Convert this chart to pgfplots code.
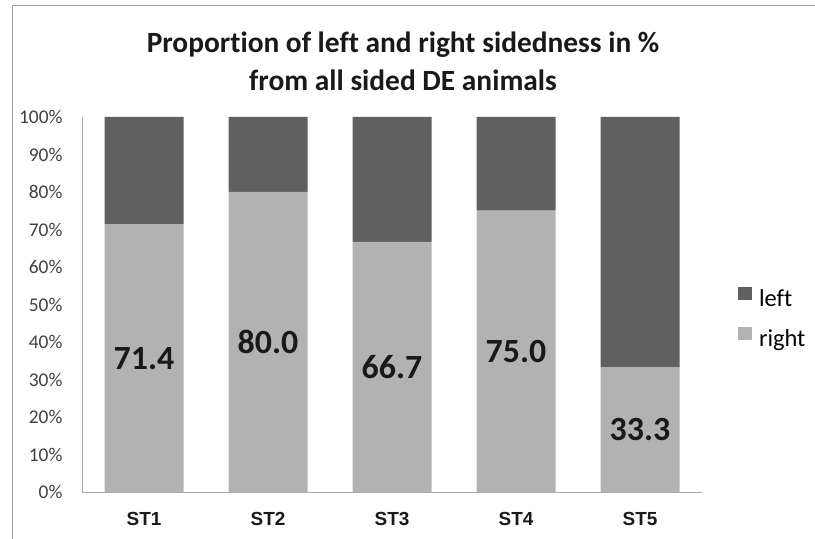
\documentclass[border=0pt]{standalone}
\usepackage{pgfplots}
\pgfplotsset{compat=1.18}
\usepackage{fontspec}
\setmainfont[Ligatures=NoCommon]{Carlito}
\newfontfamily\arialfont{Liberation Sans}

\definecolor{leftcol}{RGB}{96,96,96}
\definecolor{rightcol}{RGB}{178,178,178}
\definecolor{axiscol}{RGB}{170,170,170}
\definecolor{ticktext}{RGB}{64,64,64}

\begin{document}
\begin{tikzpicture}
\useasboundingbox (0,0) rectangle (815bp,539bp);
% chart frame (only top and left edges are visible)
\draw[gray!75, line width=0.8bp] (12bp,0) -- (12bp,534bp) -- (815bp,534bp);

\pgfplotsset{
  mygeom/.style={
    scale only axis, width=620bp, height=375bp,
    at={(82bp,47bp)}, anchor=south west,
    xmin=-0.5, xmax=4.5, ymin=0, ymax=100,
  }
}

\begin{axis}[mygeom,
  ybar stacked, bar width=79bp,
  axis x line*=bottom, axis y line*=left,
  axis line style={axiscol, line width=0.8bp},
  xtick={0,1,2,3,4},
  xticklabels={ST1,ST2,ST3,ST4,ST5},
  xticklabel style={font=\arialfont\bfseries\fontsize{19}{22}\selectfont, text=black!90, yshift=-17bp},
  ytick={0,10,...,100},
  yticklabel={\pgfmathprintnumber{\tick}\%},
  /pgf/number format/assume math mode=true,
  yticklabel style={font=\fontsize{19.5}{22}\selectfont, text=ticktext, xshift=-16bp},
  major tick length=0pt,
  legend style={at={(1.053,0.464)}, anchor=west, draw=none, fill=none,
    font=\fontsize{24.5}{28}\selectfont, row sep=18bp,
    nodes={inner sep=1bp}},
  legend cell align=left,
  reverse legend,
  legend image code/.code={\fill[#1] (0bp,-1bp) rectangle (14bp,12bp); \path (20bp,0);},
]
\addplot[fill=rightcol, draw=none] coordinates {(0,71.4) (1,80.0) (2,66.7) (3,75.0) (4,33.3)};
\addlegendentry{right}
\addplot[fill=leftcol, draw=none] coordinates {(0,28.6) (1,20.0) (2,33.3) (3,25.0) (4,66.7)};
\addlegendentry{left}
\end{axis}

% value labels, centred in the "right" segments
\begin{axis}[mygeom, hide axis,
  point meta=explicit symbolic,
  nodes near coords,
  nodes near coords align=center,
  nodes near coords style={anchor=center, font=\bfseries\fontsize{34}{38}\selectfont, text=black!90},
]
\addplot[draw=none, mark=none, only marks] coordinates {
  (0,35.7) [71.4]
  (1,40.0) [80.0]
  (2,33.35) [66.7]
  (3,37.5) [75.0]
  (4,16.65) [33.3]
};
\end{axis}

\node[font=\bfseries\fontsize{29.5}{33}\selectfont, text=black!90] at (403bp,494bp) {Proportion of left and right sidedness in \%};
\node[font=\bfseries\fontsize{29.5}{33}\selectfont, text=black!90] at (403bp,459bp) {from all sided DE animals};
\end{tikzpicture}
\end{document}
